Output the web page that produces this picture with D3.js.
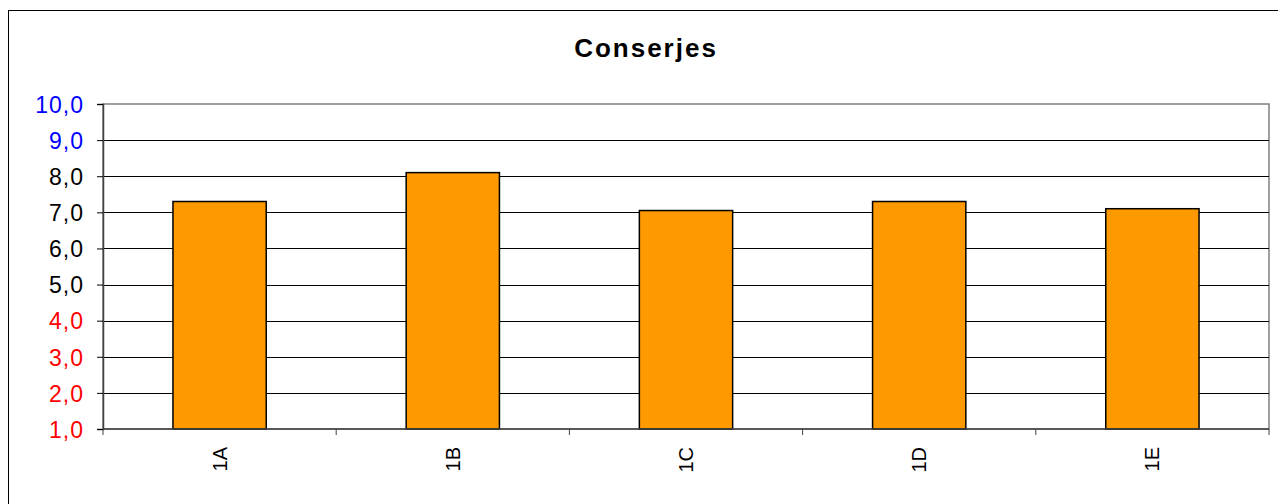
<!DOCTYPE html>
<html>
<head>
<meta charset="utf-8">
<script src="https://cdn.jsdelivr.net/npm/d3@7"></script>
<style>
  body { margin: 0; background: #fff; }
  svg { display: block; font-family: "Liberation Sans", Arial, sans-serif; }
</style>
</head>
<body>
<div id="chart"></div>
<script>
const title = "Conserjes"
const categories = ["1A", "1B", "1C", "1D", "1E"]
const values = [7.3, 8.1, 7.05, 7.3, 7.1]
const yTicks = [1, 2, 3, 4, 5, 6, 7, 8, 9, 10]

const width = 1278, height = 504
const margin = {top: 104, right: 9, bottom: 75, left: 103}

const svg = d3.select('#chart').append('svg')
    .attr('width', width)
    .attr('height', height)

// outer frame (right and bottom run off the picture)
svg.append('rect')
    .attr('x', 8.5).attr('y', 10.5)
    .attr('width', width + 20).attr('height', height + 20)
    .attr('fill', 'none').attr('stroke', '#000').attr('stroke-width', 1)

const x = d3.scaleBand()
    .domain(categories)
    .range([margin.left, width - margin.right])
    .paddingInner(0.6)
    .paddingOuter(0.3)

const y = d3.scaleLinear()
    .domain([1, 10])
    .range([height - margin.bottom, margin.top])

// plot area border
svg.append('rect')
    .attr('x', margin.left).attr('y', margin.top)
    .attr('width', width - margin.right - margin.left)
    .attr('height', height - margin.bottom - margin.top)
    .attr('fill', 'none').attr('stroke', '#808080').attr('stroke-width', 1.5)

// gridlines
svg.append('g')
    .selectAll('line')
    .data(yTicks.slice(1, -1))
    .join('line')
    .attr('x1', margin.left).attr('x2', width - margin.right)
    .attr('y1', d => Math.round(y(d)) + 0.5).attr('y2', d => Math.round(y(d)) + 0.5)
    .attr('stroke', '#000').attr('stroke-width', 1)

// bars
svg.append('g')
    .selectAll('rect')
    .data(values)
    .join('rect')
    .attr('x', (d, i) => x(categories[i]))
    .attr('y', d => y(d))
    .attr('width', x.bandwidth())
    .attr('height', d => y(1) - y(d))
    .attr('fill', '#FF9900')
    .attr('stroke', '#000')
    .attr('stroke-width', 1.5)

// y axis
const yAxis = svg.append('g')
    .attr('transform', `translate(${margin.left},0)`)
    .call(d3.axisLeft(y).tickValues(yTicks).tickSize(6).tickPadding(13)
        .tickFormat(d => d3.format('.1f')(d).replace('.', ',')))
yAxis.attr('font-size', null).attr('font-family', null)
yAxis.select('.domain').attr('stroke', '#404040').attr('stroke-width', 1.5)
yAxis.selectAll('.tick line').attr('stroke', '#000')
yAxis.selectAll('.tick text')
    .style('font-size', '23px')
    .style('letter-spacing', '1px')
    .attr('dy', '0.36em')
    .attr('fill', d => d <= 4 ? '#FF0000' : (d >= 9 ? '#0000FF' : '#000'))

// x axis, ticks between categories
const bandStep = (width - margin.right - margin.left) / categories.length
const xAxis = svg.append('g')
    .attr('transform', `translate(0,${height - margin.bottom})`)
xAxis.append('line')
    .attr('x1', margin.left).attr('x2', width - margin.right)
    .attr('stroke', '#404040').attr('stroke-width', 1.5)
xAxis.selectAll('.tk')
    .data(d3.range(categories.length + 1))
    .join('line')
    .attr('class', 'tk')
    .attr('x1', i => margin.left + i * bandStep).attr('x2', i => margin.left + i * bandStep)
    .attr('y1', 0).attr('y2', 6)
    .attr('stroke', '#404040')
xAxis.selectAll('text')
    .data(categories)
    .join('text')
    .attr('transform', d => `translate(${x(d) + x.bandwidth() / 2 + 7},18) rotate(-90)`)
    .attr('text-anchor', 'end')
    .style('font-size', '20px')
    .attr('fill', '#000')
    .text(d => d)

// title
svg.append('text')
    .attr('x', 646).attr('y', 57)
    .attr('text-anchor', 'middle')
    .style('font-size', '26px')
    .style('letter-spacing', '2px')
    .attr('font-weight', 'bold')
    .text(title)
</script>
</body>
</html>
